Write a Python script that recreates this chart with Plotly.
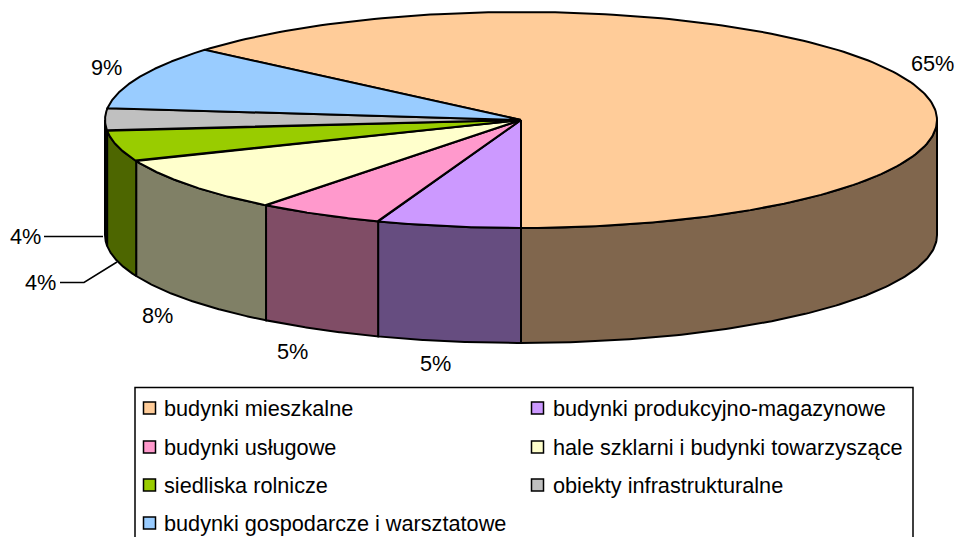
import numpy as np
import plotly.graph_objects as go

categories = ["budynki mieszkalne", "budynki produkcyjno-magazynowe", "budynki usługowe",
              "hale szklarni i budynki towarzyszące", "siedliska rolnicze",
              "obiekty infrastrukturalne", "budynki gospodarcze i warsztatowe"]
# percentage printed on each slice
printed_labels = ["65%", "5%", "5%", "8%", "4%", "4%", "9%"]
# share of the circle as actually drawn
drawn_share = [63.75, 5.58, 4.92, 8.3, 4.6, 3.35, 9.5]
top_colors = ["#FFCC99", "#CC99FF", "#FF99CC", "#FFFFCC", "#99CC00", "#C0C0C0", "#99CCFF"]
side_colors = ["#80664D", "#664D80", "#804D66", "#808066", "#4D6600", "#202020", "#4D6680"]

W, H = 957, 537
CX, CY, RX, RY, DEPTH = 521, 120, 416, 108, 115
START_DEG = -49.5
FONT = "Liberation Sans, Arial, sans-serif"
FS = 21.7
LINE = dict(color="black", width=2)

def ell(t_deg, dy=0):
    t = np.radians(t_deg)
    return CX + RX * np.sin(t), CY - RY * np.cos(t) + dy

fig = go.Figure()
edges = START_DEG + np.concatenate([[0], np.cumsum(drawn_share)]) * 3.6

# side walls (only the front half of the disc is visible)
for i, name in enumerate(categories):
    a, b = max(edges[i], 90), min(edges[i + 1], 270)
    if b <= a:
        continue
    t = np.linspace(a, b, 120)
    x1, y1 = ell(t)
    x2, y2 = ell(t[::-1], DEPTH)
    fig.add_trace(go.Scatter(x=np.r_[x1, x2, x1[0]], y=np.r_[y1, y2, y1[0]], mode="lines",
                             fill="toself", fillcolor=side_colors[i], line=LINE,
                             name=name, hoverinfo="name", showlegend=False))
# top faces
for i, name in enumerate(categories):
    t = np.linspace(edges[i], edges[i + 1], 200)
    x1, y1 = ell(t)
    fig.add_trace(go.Scatter(x=np.r_[CX, x1, CX], y=np.r_[CY, y1, CY], mode="lines",
                             fill="toself", fillcolor=top_colors[i], line=LINE,
                             name=name, hoverinfo="name", showlegend=False))

# percentage labels, in slice order
label_xy = [(932, 63), (435, 363), (292, 351), (157, 315), (40, 282), (25, 236), (106, 67)]
annotations = [dict(x=x, y=y, text=s, showarrow=False, xanchor="center", yanchor="middle",
                    font=dict(family=FONT, size=FS, color="black"))
               for (x, y), s in zip(label_xy, printed_labels)]

# legend (two columns, filled row by row)
swatch_x, text_x = [149.5, 537.5], [161.5, 551]
row_y = [408, 447, 485, 523]
for i, name in enumerate(categories):
    col, row = i % 2, i // 2
    fig.add_trace(go.Scatter(x=[swatch_x[col]], y=[row_y[row]], mode="markers",
                             marker=dict(symbol="square", size=12, color=top_colors[i],
                                         line=dict(color="black", width=1.5)),
                             name=name, hoverinfo="name", showlegend=False))
    annotations.append(dict(x=text_x[col], y=row_y[row], text=name, showarrow=False,
                            xanchor="left", yanchor="middle",
                            font=dict(family=FONT, size=FS, color="black")))

shapes = [
    dict(type="rect", x0=135, x1=913, y0=387.5, y1=560, line=dict(color="black", width=1.5), layer="below"),
    dict(type="path", path="M44,236.5 L103,236.5", line=dict(color="black", width=1.5)),
    dict(type="path", path="M60,282.5 L84,282.5 L117,262", line=dict(color="black", width=1.5)),
]

fig.update_layout(
    width=W, height=H, margin=dict(l=0, r=0, t=0, b=0), autosize=False,
    paper_bgcolor="white", plot_bgcolor="white", showlegend=False,
    xaxis=dict(range=[0, W], visible=False, fixedrange=True),
    yaxis=dict(range=[H, 0], visible=False, fixedrange=True),
    annotations=annotations, shapes=shapes,
)
fig.write_html("out.html", config=dict(displayModeBar=False),
               post_script="document.body.style.margin='0';document.body.style.overflow='hidden';")
